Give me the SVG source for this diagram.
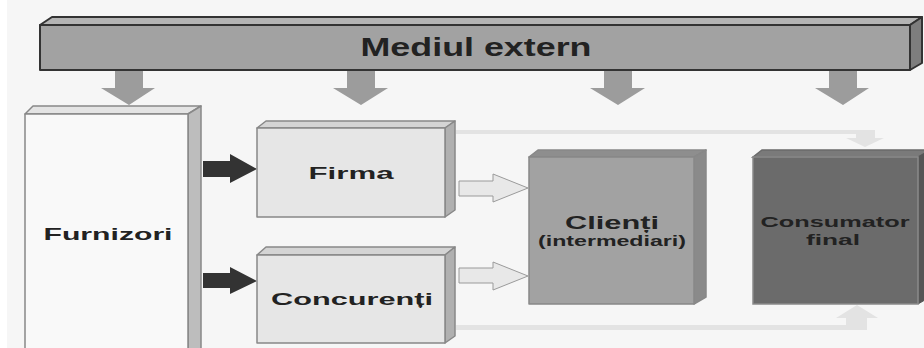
<svg xmlns="http://www.w3.org/2000/svg" width="924" height="348" viewBox="0 0 924 348">
<style>
text{font-family:"Liberation Sans",Arial,sans-serif;font-weight:bold;fill:#222;text-anchor:middle}
.edge{stroke:#333;stroke-width:2;stroke-linejoin:round}
.soft{stroke:#888;stroke-width:1.5;stroke-linejoin:round}
.env{fill:#9c9c9c}
.dark{fill:#333}
.light{fill:#e8e8e8;stroke:#9a9a9a;stroke-width:1}
.faint{fill:#e3e3e3}
</style>
<rect x="0" y="0" width="924" height="348" fill="#f6f6f6"/>
<rect x="0" y="0" width="7" height="348" fill="#ffffff"/>

<g id="connectors">
  <!-- environment arrows -->
  <polygon class="env" points="115,70 143,70 143,88 155,88 129,105 101,88 115,88"/>
  <polygon class="env" points="347,70 375,70 375,88 388,88 361,105 333,88 347,88"/>
  <polygon class="env" points="604,70 632,70 632,88 645,88 618,105 590,88 604,88"/>
  <polygon class="env" points="829,70 857,70 857,88 869,88 843,105 815,88 829,88"/>
  <!-- Furnizori to Firma / Concurenti -->
  <polygon class="dark" points="203,161 230,161 230,154 257,169 230,183 230,177 203,177"/>
  <polygon class="dark" points="203,273 230,273 230,267 257,281 230,294 230,288 203,288"/>
  <!-- Firma / Concurenti to Clienti -->
  <polygon class="light" points="459,181 493,181 493,174 528,188 493,202 493,196 459,196"/>
  <polygon class="light" points="459,268 493,268 493,262 528,276 493,290 493,283 459,283"/>
  <!-- faint lines to Consumator final -->
  <polygon class="faint" points="456,130 875,130 875,138 884,138 865,147 846,138 856,138 856,134 456,134"/>
  <polygon class="faint" points="456,325 846,325 846,318 836,318 857,305 878,318 867,318 867,330 456,330"/>
</g>

<g id="mediul-extern">
  <polygon class="edge" fill="#b4b4b4" points="40,25 52,17 922,17 910,25"/>
  <polygon class="edge" fill="#7e7e7e" points="910,25 922,17 922,63 910,70"/>
  <rect class="edge" x="40" y="25" width="870" height="45" fill="#a2a2a2"/>
  <text x="476" y="56" font-size="26" textLength="231" lengthAdjust="spacingAndGlyphs">Mediul extern</text>
</g>

<g id="furnizori">
  <polygon class="soft" fill="#e4e4e4" points="25,114 33,106 201,106 188,114"/>
  <polygon class="soft" fill="#bdbdbd" points="188,114 201,106 201,350 188,350"/>
  <rect class="soft" x="25" y="114" width="163" height="240" fill="#f9f9f9"/>
  <text x="108" y="240" font-size="17" textLength="129" lengthAdjust="spacingAndGlyphs">Furnizori</text>
</g>

<g id="firma">
  <polygon class="soft" fill="#d4d4d4" points="257,128 266,121 455,121 445,128"/>
  <polygon class="soft" fill="#b0b0b0" points="445,128 455,121 455,210 445,217"/>
  <rect class="soft" x="257" y="128" width="188" height="89" fill="#e6e6e6"/>
  <text x="351" y="179" font-size="16" textLength="85" lengthAdjust="spacingAndGlyphs">Firma</text>
</g>

<g id="concurenti">
  <polygon class="soft" fill="#d4d4d4" points="257,255 266,247 455,247 445,255"/>
  <polygon class="soft" fill="#b0b0b0" points="445,255 455,247 455,336 445,343"/>
  <rect class="soft" x="257" y="255" width="188" height="88" fill="#e6e6e6"/>
  <text x="352" y="305" font-size="17" textLength="162" lengthAdjust="spacingAndGlyphs">Concurenți</text>
</g>

<g id="clienti">
  <polygon class="soft" fill="#8e8e8e" points="529,157 538,150 706,150 694,157"/>
  <polygon class="soft" fill="#8a8a8a" points="694,157 706,150 706,297 694,304"/>
  <rect class="soft" x="529" y="157" width="165" height="147" fill="#a2a2a2"/>
  <text x="612" y="229" font-size="18" textLength="94" lengthAdjust="spacingAndGlyphs">Clienți</text>
  <text x="612" y="246" font-size="14" textLength="148" lengthAdjust="spacingAndGlyphs">(intermediari)</text>
</g>

<g id="consumator-final">
  <polygon fill="#7a7a7a" stroke="#6a6a6a" stroke-width="1.5" points="753,157 762,150 930,150 918,157"/>
  <polygon fill="#555555" stroke="#555" stroke-width="1" points="918,157 930,150 930,297 918,304"/>
  <rect x="753" y="157" width="165" height="147" fill="#6b6b6b" stroke="#8a8a8a" stroke-width="1.5"/>
  <text x="835" y="227" font-size="15" textLength="149" lengthAdjust="spacingAndGlyphs">Consumator</text>
  <text x="833" y="245" font-size="15" textLength="54" lengthAdjust="spacingAndGlyphs">final</text>
</g>
</svg>
